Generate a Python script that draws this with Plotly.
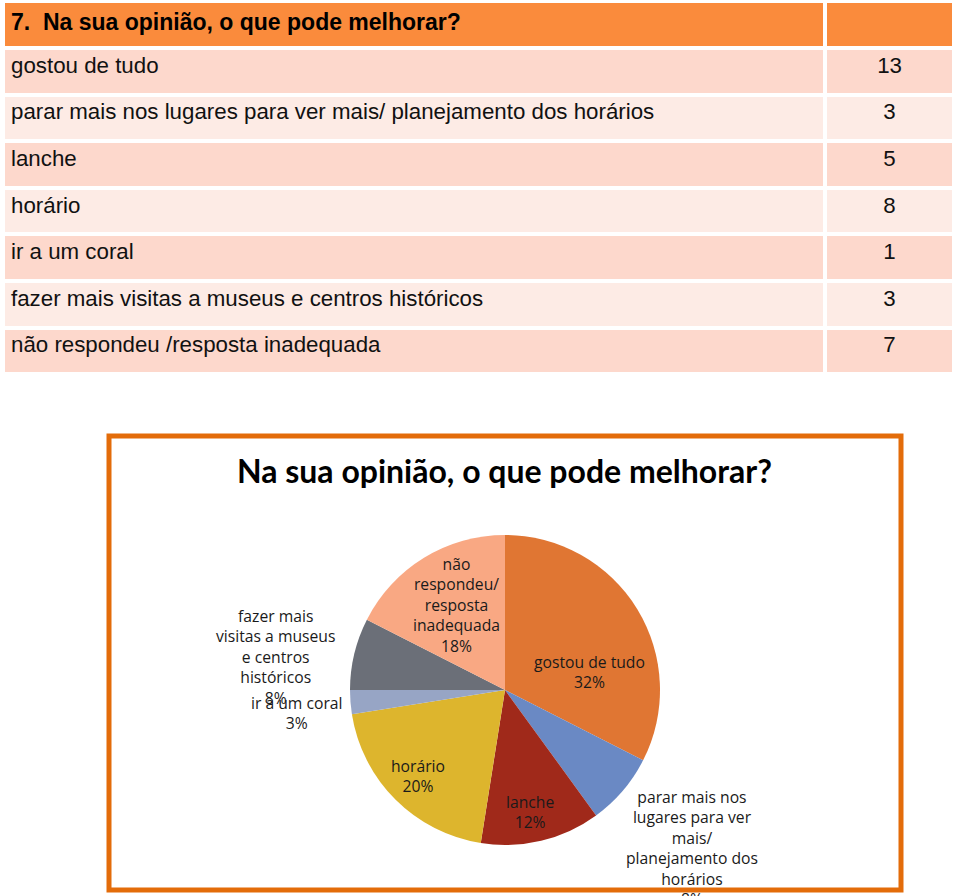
import plotly.graph_objects as go

# ---- data ----
categories = [
    "gostou de tudo",
    "parar mais nos lugares para ver mais/ planejamento dos horários",
    "lanche",
    "horário",
    "ir a um coral",
    "fazer mais visitas a museus e centros históricos",
    "não respondeu /resposta inadequada",
]
counts = [13, 3, 5, 8, 1, 3, 7]
header_text = "7.  Na sua opinião, o que pode melhorar?"
chart_title = "Na sua opinião, o que pode melhorar?"
pie_label_lines = [
    ["gostou de tudo"],
    ["parar mais nos", "lugares para ver", "mais/", "planejamento dos", "horários"],
    ["lanche"],
    ["horário"],
    ["ir a um coral"],
    ["fazer mais", "visitas a museus", "e centros", "históricos"],
    ["não", "respondeu/", "resposta", "inadequada"],
]
pct_labels = ["32%", "8%", "12%", "20%", "3%", "8%", "18%"]

# ---- styles ----
slice_colors = ["#E07633", "#6A89C4", "#A0291A", "#DDB52D", "#97A5C5", "#6B6F78", "#F9A883"]
W, H = 960, 896
# label centre positions (pixels) for each slice label
label_pos = [(589, 672), (692, 848), (530, 812), (418, 776), (297, 713), (275, 657), (456, 605)]

row_dark = "#FDD8CC"
row_light = "#FDEBE5"
row_fills = [row_dark if i % 2 == 0 else row_light for i in range(len(categories))]

fig = go.Figure()

fig.add_trace(go.Table(
    domain=dict(x=[3 / W, 955 / W], y=[0.5, 1 - 1 / H]),
    columnwidth=[823, 129],
    header=dict(
        values=["<b>" + header_text + "</b>", ""],
        fill_color="#FA8B3C",
        line=dict(color="white", width=4),
        align=["left", "center"],
        font=dict(family="Liberation Sans", size=23, color="black"),
        height=47,
    ),
    cells=dict(
        values=[categories, [str(c) for c in counts]],
        fill_color=[row_fills, row_fills],
        line=dict(color="white", width=4),
        align=["left", "center"],
        font=dict(family="Liberation Sans", size=22.3, color="#111111"),
        height=46.6,
    ),
))

cx, cy, r = 505, 690, 155
fig.add_trace(go.Pie(
    labels=categories,
    values=counts,
    sort=False,
    direction="clockwise",
    rotation=0,
    marker=dict(colors=slice_colors, line=dict(width=0)),
    textinfo="none",
    hoverinfo="label+percent",
    showlegend=False,
    domain=dict(x=[(cx - r) / W, (cx + r) / W], y=[1 - (cy + r) / H, 1 - (cy - r) / H]),
))

annotations = []
for lines, pct, (px, py) in zip(pie_label_lines, pct_labels, label_pos):
    annotations.append(dict(
        text="<br>".join(lines + [pct]),
        x=px / W, y=1 - py / H, xref="paper", yref="paper",
        xanchor="center", yanchor="middle", showarrow=False,
        font=dict(family="Open Sans", size=15.7, color="#1a1a1a"),
    ))
annotations.append(dict(
    text="<b>" + chart_title + "</b>",
    x=505 / W, y=1 - 470 / H, xref="paper", yref="paper",
    xanchor="center", yanchor="middle", showarrow=False,
    font=dict(family="Lato", size=32, color="black"),
))

fig.update_layout(
    width=W, height=H,
    margin=dict(l=0, r=0, t=0, b=0),
    paper_bgcolor="white",
    plot_bgcolor="white",
    annotations=annotations,
    shapes=[dict(
        type="rect", xref="paper", yref="paper",
        x0=109 / W, x1=901 / W, y0=1 - 890 / H, y1=1 - 436 / H,
        line=dict(color="#E36C0A", width=5), layer="above",
    )],
)

fig.write_html(
    "out.html",
    config={"displayModeBar": False},
    post_script="document.body.style.margin='0';document.body.style.overflow='hidden';",
)
